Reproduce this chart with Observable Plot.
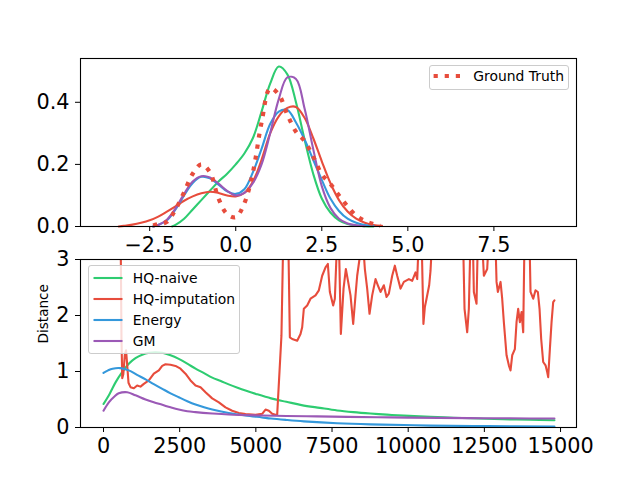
<!DOCTYPE html>
<html><head><meta charset="utf-8">
<script src="https://cdn.jsdelivr.net/npm/d3@7"></script>
<script src="https://cdn.jsdelivr.net/npm/@observablehq/plot@0.6"></script>
<style>
body{margin:0;background:#fff;}
#wrap{position:relative;width:640px;height:480px;overflow:hidden;font-family:"DejaVu Sans",sans-serif;background:#fff;}
#top,#bottom{position:absolute;left:0;}
#top{top:0}
#bottom{top:255px}
.legend{position:absolute;box-sizing:border-box;border:1px solid #cccccc;border-radius:3px;background:rgba(255,255,255,0.8);}
.row{position:absolute;left:0;height:16px;width:100%;}
.row svg{position:absolute;top:0;}
.row span{position:absolute;top:0;font-size:13.9px;line-height:16px;white-space:nowrap;color:#000;}
</style></head><body>
<div id="wrap"><div id="top"></div><div id="bottom"></div></div>
<script>
// ---------- colours / labels ----------
const seriesNames = ["HQ-naive", "HQ-imputation", "Energy", "GM"];
const seriesColors = ["#2ecc71", "#e74c3c", "#3498db", "#9b59b6"];
const gtName = "Ground Truth";
const gtColor = "#e74c3c";

// ---------- top panel: density curves ----------
const topXTicks = [-2.5, 0, 2.5, 5, 7.5];
const topYTicks = [0, 0.2, 0.4];

const naiveKdeX = [-1.85,-1.75,-1.5,-1.25,-1,-0.75,-0.5,-0.25,0,0.25,0.5,0.75,1,1.25,1.5,1.75,2,2.25,2.5,2.75,3,3.25,3.5,3.75,4];
const naiveKdeY = [0,0.005,0.025,0.055,0.085,0.115,0.145,0.17,0.2,0.235,0.285,0.37,0.46,0.515,0.49,0.40,0.28,0.17,0.09,0.045,0.02,0.008,0.003,0.001,0];

const imputKdeX = [-3.4,-3.25,-3,-2.75,-2.5,-2.25,-2,-1.75,-1.5,-1.25,-1,-0.75,-0.5,-0.25,0,0.25,0.5,0.75,1,1.25,1.5,1.75,2,2.25,2.5,2.75,3,3.25,3.5,3.75,4,4.25];
const imputKdeY = [0,0.002,0.006,0.012,0.02,0.032,0.048,0.065,0.083,0.097,0.107,0.112,0.108,0.1,0.097,0.108,0.145,0.215,0.30,0.355,0.382,0.385,0.35,0.285,0.21,0.14,0.085,0.048,0.025,0.012,0.005,0.002];

const energyKdeX = [-2.4,-2.25,-2,-1.75,-1.5,-1.25,-1,-0.75,-0.5,-0.25,0,0.25,0.5,0.75,1,1.25,1.5,1.75,2,2.25,2.5,2.75,3,3.25,3.5,3.75,4];
const energyKdeY = [0,0.005,0.02,0.055,0.10,0.14,0.16,0.155,0.135,0.113,0.105,0.12,0.175,0.25,0.33,0.37,0.375,0.335,0.28,0.215,0.15,0.09,0.05,0.025,0.012,0.005,0.002];

const gmKdeX = [-2.4,-2.25,-2,-1.75,-1.5,-1.25,-1,-0.75,-0.5,-0.25,0,0.25,0.5,0.75,1,1.25,1.5,1.75,2,2.25,2.5,2.75,3,3.25,3.5,3.75];
const gmKdeY = [0,0.005,0.022,0.058,0.105,0.145,0.162,0.158,0.138,0.115,0.1,0.108,0.14,0.2,0.3,0.41,0.48,0.475,0.38,0.25,0.13,0.06,0.025,0.01,0.004,0.001];

const gtKdeX = [-2.4,-2.25,-2,-1.75,-1.5,-1.25,-1,-0.75,-0.5,-0.25,0,0.25,0.5,0.75,1,1.25,1.5,1.75,2,2.25,2.5,2.75,3,3.25,3.5,3.75,4,4.2];
const gtKdeY = [0.003,0.008,0.015,0.055,0.11,0.17,0.2,0.175,0.09,0.04,0.03,0.075,0.175,0.335,0.445,0.425,0.36,0.305,0.275,0.225,0.168,0.137,0.1,0.065,0.035,0.018,0.008,0.002];

// ---------- bottom panel: distance over iterations ----------
const botXTicks = [0, 2500, 5000, 7500, 10000, 12500, 15000];
const botYTicks = [0, 1, 2, 3];
const yLabel = "Distance";

const naiveT = [0,200,400,600,830,1050,1270,1500,1700,1930,2200,2470,2750,3020,3300,3570,3850,4110,4400,4660,5000,5500,6000,6500,7100,7670,8200,8760,9300,9860,10730,11500,12300,13100,14000,14800];
const naiveV = [0.42,0.6,0.81,0.98,1.14,1.24,1.30,1.335,1.345,1.335,1.29,1.225,1.14,1.05,0.97,0.89,0.83,0.77,0.71,0.66,0.60,0.52,0.46,0.40,0.35,0.305,0.275,0.25,0.23,0.212,0.19,0.175,0.16,0.148,0.138,0.13];

const imputT = [0,530,560,590,615,650,700,740,780,820,886,996,1105,1214,1324,1488,1652,1816,1926,2035,2199,2363,2527,2691,2856,3020,3184,3348,3567,3786,4004,4223,4442,4661,4989,5208,5317,5427,5536,5645,5700,5840,5900,6061,6116,6193,6357,6466,6521,6575,6685,6794,6958,7068,7177,7287,7363,7429,7538,7593,7670,7724,7790,7878,7954,8030,8107,8195,8271,8326,8400,8468,8530,8578,8654,8731,8818,8928,9004,9092,9201,9289,9365,9475,9562,9639,9749,9858,10022,10131,10241,10296,10350,10440,10500,10547,10602,10689,10733,10790,11800,11849,11937,11991,12046,12120,12155,12243,12287,12420,12484,12593,12648,12860,12900,12943,13031,13085,13140,13228,13304,13359,13414,13501,13556,13610,13665,13720,13775,13818,13980,14015,14103,14179,14256,14311,14365,14431,14508,14562,14595,14650,14705,14759,14800];
const imputV = [4.5,4,3.6,1.6,0.88,0.95,1.3,1.38,1.1,0.8,0.72,0.70,0.75,0.73,0.78,0.84,0.96,1.02,1.1,1.13,1.12,1.1,1.05,0.96,0.84,0.75,0.72,0.63,0.52,0.45,0.36,0.30,0.26,0.24,0.225,0.244,0.32,0.30,0.244,0.226,0.23,1.64,3.4,3.5,1.61,1.58,1.55,1.67,1.79,2.12,2.18,2.30,2.36,2.45,2.71,2.86,2.92,2.42,2.18,2.30,3.4,3.4,1.67,2.48,2.83,2.6,2.36,1.85,2.36,2.71,3.0,3.4,3.2,2.83,2.48,2.03,2.36,2.65,2.54,2.42,2.54,2.33,2.39,2.71,2.89,2.71,2.48,2.6,2.65,2.62,2.77,2.65,3.4,3.4,1.85,2.15,2.30,2.54,2.8,3.4,3.4,2.12,1.70,2.12,3.4,3.4,2.42,2.21,3.4,3.4,2.71,2.83,3.4,3.4,2.6,2.42,2.6,2.3,1.88,1.29,1.11,1.02,1.29,1.40,1.88,2.12,1.88,2.06,1.70,3.4,3.4,2.42,2.30,2.45,2.42,2.12,1.58,1.17,1.11,0.99,0.90,1.40,1.88,2.24,2.27];

const energyT = [0,150,300,550,830,1100,1380,1650,1930,2200,2470,2750,3020,3300,3570,4110,4660,5200,5500,6000,6575,7670,8760,9860,10730,12600,14800];
const energyV = [0.975,1.02,1.05,1.06,1.02,0.94,0.86,0.775,0.69,0.61,0.54,0.47,0.41,0.36,0.32,0.26,0.215,0.18,0.16,0.135,0.11,0.075,0.055,0.044,0.034,0.024,0.018];

const gmT = [0,175,350,500,777,1050,1380,1650,1930,2200,2470,2750,3020,3570,4110,5200,6000,7000,8000,9000,10000,11000,12000,13000,14000,14800];
const gmV = [0.30,0.45,0.55,0.61,0.63,0.575,0.50,0.45,0.405,0.36,0.32,0.29,0.274,0.25,0.232,0.214,0.205,0.198,0.19,0.183,0.177,0.172,0.168,0.165,0.162,0.16];

// ---------- drawing ----------
const baseStyle = {fontFamily: "DejaVu Sans", fontSize: "20.8px", color: "black", background: "white", overflow: "visible"};
const lw = 2.1;

const topPlot = Plot.plot({
  width: 640, height: 255,
  marginLeft: 80, marginRight: 64, marginTop: 58, marginBottom: 29,
  x: {domain: [-4.51, 9.9]},
  y: {domain: [0, 0.541]},
  style: baseStyle,
  marks: [
    Plot.line(naiveKdeY, {x: naiveKdeX, y: naiveKdeY, stroke: seriesColors[0], strokeWidth: lw, curve: "catmull-rom"}),
    Plot.line(imputKdeY, {x: imputKdeX, y: imputKdeY, stroke: seriesColors[1], strokeWidth: lw, curve: "catmull-rom"}),
    Plot.line(energyKdeY, {x: energyKdeX, y: energyKdeY, stroke: seriesColors[2], strokeWidth: lw, curve: "catmull-rom"}),
    Plot.line(gmKdeY, {x: gmKdeX, y: gmKdeY, stroke: seriesColors[3], strokeWidth: lw, curve: "catmull-rom"}),
    Plot.line(gtKdeY, {x: gtKdeX, y: gtKdeY, stroke: gtColor, strokeWidth: 4.2, strokeDasharray: "4.2,6.9", strokeLinecap: "butt", curve: "catmull-rom"}),
    Plot.axisX({ticks: topXTicks, tickFormat: d3.format(".1f"), tickSize: 5, tickPadding: 6, label: null}),
    Plot.axisY({ticks: topYTicks, tickFormat: d3.format(".1f"), tickSize: 5, tickPadding: 6, label: null}),
    Plot.frame({stroke: "black", strokeWidth: 1.1})
  ]
});

const botPlot = Plot.plot({
  width: 640, height: 225,
  marginLeft: 80, marginRight: 64, marginTop: 4, marginBottom: 53,
  x: {domain: [-755, 15524]},
  y: {domain: [0, 3]},
  style: baseStyle,
  marks: [
    Plot.line(naiveV, {x: naiveT, y: naiveV, stroke: seriesColors[0], strokeWidth: lw, curve: "catmull-rom", clip: true}),
    Plot.line(imputV, {x: imputT, y: imputV, stroke: seriesColors[1], strokeWidth: lw, curve: "linear", clip: true}),
    Plot.line(energyV, {x: energyT, y: energyV, stroke: seriesColors[2], strokeWidth: lw, curve: "catmull-rom", clip: true}),
    Plot.line(gmV, {x: gmT, y: gmV, stroke: seriesColors[3], strokeWidth: lw, curve: "catmull-rom", clip: true}),
    Plot.axisX({ticks: botXTicks, tickFormat: d3.format("d"), tickSize: 5, tickPadding: 6, label: null}),
    Plot.axisY({ticks: botYTicks, tickFormat: d3.format("d"), tickSize: 5, tickPadding: 6, label: null}),
    Plot.text([yLabel], {frameAnchor: "left", dx: -37, rotate: -90, fontSize: 13.6, fill: "black"}),
    Plot.frame({stroke: "black", strokeWidth: 1.1})
  ]
});

document.getElementById("top").appendChild(topPlot);
document.getElementById("bottom").appendChild(botPlot);

// ---------- legends (HTML overlays) ----------
const wrap = document.getElementById("wrap");
function makeLegend(left, top, w, h, items) {
  const box = document.createElement("div");
  box.className = "legend";
  Object.assign(box.style, {left: left + "px", top: top + "px", width: w + "px", height: h + "px"});
  items.forEach(it => {
    const row = document.createElement("div");
    row.className = "row";
    row.style.top = (it.cy - 8) + "px";
    const dash = it.dash ? `stroke-dasharray="${it.dash}"` : "";
    row.innerHTML = `<svg width="${it.x2 + 4}" height="16" style="left:0"><line x1="${it.x1}" x2="${it.x2}" y1="8" y2="8" stroke="${it.color}" stroke-width="${it.width}" ${dash}/></svg><span style="left:${it.tx}px">${it.label}</span>`;
    box.appendChild(row);
  });
  wrap.appendChild(box);
}
makeLegend(87.5, 265, 152, 89, seriesNames.map((name, i) => ({
  label: name, color: seriesColors[i], width: lw, x1: 4.5, x2: 33.5, tx: 44.3, cy: [11.7, 33, 54, 74.7][i]
})));
makeLegend(428.7, 65, 140.6, 25, [{label: gtName, color: gtColor, width: 4.2, dash: "4.2,6.9", x1: 3.6, x2: 32, tx: 43.6, cy: 9.7}]);
</script>
</body></html>
